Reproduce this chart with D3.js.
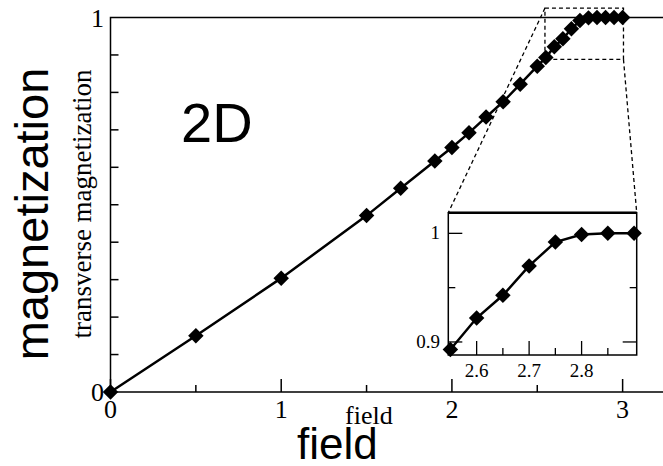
<html>
<script src="https://d3js.org/d3.v7.min.js"></script>
<style>
    body { margin: 0; background: white; }
    .serif { font-family: "Liberation Serif", "Times New Roman", serif; }
    .sans { font-family: "Liberation Sans", Arial, sans-serif; }
</style>
<body>
<script>
    var width = 663, height = 466;

    // magnetization curve
    let field = [0, 0.5, 1.0, 1.5, 1.7, 1.9, 2.0, 2.1, 2.2, 2.3, 2.4, 2.5,
                 2.55, 2.6, 2.65, 2.7, 2.75, 2.8, 2.85, 2.9, 2.95, 3.0];
    let magnet = [0, 0.150, 0.304, 0.471, 0.544, 0.617, 0.653, 0.692, 0.734, 0.775, 0.822, 0.870,
                  0.893, 0.922, 0.943, 0.970, 0.992, 0.999, 1.0, 1.0, 1.0, 1.0];
    let data = field.map((f, i) => ({x: f, y: magnet[i]}));

    let xTicks = [0, 1, 2, 3];
    let xMinor = [0.5, 1.5, 2.5];
    let yMinor = [0.1, 0.2, 0.3, 0.4, 0.5, 0.6, 0.7, 0.8, 0.9];
    let insetXTicks = [2.6, 2.7, 2.8];
    let insetXMinor = [2.65, 2.75, 2.85];
    let insetYTicks = [0.9, 1];
    let insetYMinor = [0.95];

    let svg = d3.select("body").append("svg")
        .attr("width", width)
        .attr("height", height);

    let x = d3.scaleLinear().domain([0, 3.25]).range([110.5, 665.3]);
    let y = d3.scaleLinear().domain([0, 1]).range([392, 17.5]);

    // frame (right side is cut off in the original)
    svg.append("path")
        .attr("d", "M" + width + "," + y(1) + "H" + x(0) + "V" + y(0) + "H" + width)
        .attr("fill", "none").attr("stroke", "black").attr("stroke-width", 1.5);

    xTicks.forEach(t => svg.append("line")
        .attr("x1", x(t)).attr("x2", x(t)).attr("y1", y(0)).attr("y2", y(0) - 13)
        .attr("stroke", "black").attr("stroke-width", 1.5));
    xMinor.forEach(t => svg.append("line")
        .attr("x1", x(t)).attr("x2", x(t)).attr("y1", y(0)).attr("y2", y(0) - 7)
        .attr("stroke", "black").attr("stroke-width", 1.5));
    yMinor.forEach(t => svg.append("line")
        .attr("x1", x(0)).attr("x2", x(0) + 8).attr("y1", y(t)).attr("y2", y(t))
        .attr("stroke", "black").attr("stroke-width", 1.5));

    xTicks.forEach(t => svg.append("text")
        .attr("class", "serif")
        .attr("x", x(t)).attr("y", 418)
        .attr("text-anchor", "middle")
        .attr("font-size", 26)
        .text(t));
    [0, 1].forEach(t => svg.append("text")
        .attr("class", "serif")
        .attr("x", 104).attr("y", y(t) + 9)
        .attr("text-anchor", "end")
        .attr("font-size", 26)
        .text(t));

    // zoom box and guide lines
    let bx0 = x(2.545), bx1 = x(3.005), by0 = y(1.025), by1 = y(0.888);

    let ix = d3.scaleLinear().domain([2.546, 2.905]).range([448.3, 636.7]);
    let iy = d3.scaleLinear().domain([0.888, 1.019]).range([355, 212.7]);

    svg.append("rect")
        .attr("x", bx0).attr("y", by0).attr("width", bx1 - bx0).attr("height", by1 - by0)
        .attr("fill", "none").attr("stroke", "black").attr("stroke-width", 1.3)
        .attr("stroke-dasharray", "4,3");
    svg.append("line")
        .attr("x1", bx0).attr("y1", by0).attr("x2", ix.range()[0]).attr("y2", iy.range()[1])
        .attr("stroke", "black").attr("stroke-width", 1.3).attr("stroke-dasharray", "4,3");
    svg.append("line")
        .attr("x1", bx1).attr("y1", by1).attr("x2", ix.range()[1]).attr("y2", iy.range()[1])
        .attr("stroke", "black").attr("stroke-width", 1.3).attr("stroke-dasharray", "4,3");

    let line = d3.line().x(d => x(d.x)).y(d => y(d.y));
    svg.append("path")
        .datum(data)
        .attr("d", line)
        .attr("fill", "none").attr("stroke", "black").attr("stroke-width", 2.5);

    let diamond = d3.symbol().type(d3.symbolSquare).size(120);
    svg.selectAll("mainpts")
        .data(data)
        .enter()
        .append("path")
        .attr("d", diamond)
        .attr("transform", d => "translate(" + x(d.x) + "," + y(d.y) + ") rotate(45)")
        .attr("fill", "black");

    // inset
    let inset = svg.append("g");
    inset.append("rect")
        .attr("x", ix.range()[0]).attr("y", iy.range()[1])
        .attr("width", ix.range()[1] - ix.range()[0]).attr("height", iy.range()[0] - iy.range()[1])
        .attr("fill", "white").attr("stroke", "black").attr("stroke-width", 1.5);
    inset.append("line")
        .attr("x1", ix.range()[0]).attr("x2", ix.range()[1])
        .attr("y1", iy.range()[1]).attr("y2", iy.range()[1])
        .attr("stroke", "black").attr("stroke-width", 2.5);

    insetXTicks.forEach(t => inset.append("line")
        .attr("x1", ix(t)).attr("x2", ix(t)).attr("y1", iy.range()[0]).attr("y2", iy.range()[0] - 14)
        .attr("stroke", "black").attr("stroke-width", 1.3));
    insetXMinor.forEach(t => inset.append("line")
        .attr("x1", ix(t)).attr("x2", ix(t)).attr("y1", iy.range()[0]).attr("y2", iy.range()[0] - 7)
        .attr("stroke", "black").attr("stroke-width", 1.3));
    insetYTicks.forEach(t => {
        inset.append("line")
            .attr("x1", ix.range()[0]).attr("x2", ix.range()[0] + 14).attr("y1", iy(t)).attr("y2", iy(t))
            .attr("stroke", "black").attr("stroke-width", 1.3);
        inset.append("line")
            .attr("x1", ix.range()[1]).attr("x2", ix.range()[1] - 14).attr("y1", iy(t)).attr("y2", iy(t))
            .attr("stroke", "black").attr("stroke-width", 1.3);
    });
    insetYMinor.forEach(t => {
        inset.append("line")
            .attr("x1", ix.range()[0]).attr("x2", ix.range()[0] + 7).attr("y1", iy(t)).attr("y2", iy(t))
            .attr("stroke", "black").attr("stroke-width", 1.3);
        inset.append("line")
            .attr("x1", ix.range()[1]).attr("x2", ix.range()[1] - 7).attr("y1", iy(t)).attr("y2", iy(t))
            .attr("stroke", "black").attr("stroke-width", 1.3);
    });

    insetXTicks.forEach(t => inset.append("text")
        .attr("class", "serif")
        .attr("x", ix(t)).attr("y", 377)
        .attr("text-anchor", "middle")
        .attr("font-size", 19)
        .text(t));
    insetYTicks.forEach(t => inset.append("text")
        .attr("class", "serif")
        .attr("x", 440).attr("y", iy(t) + 6)
        .attr("text-anchor", "end")
        .attr("font-size", 19)
        .text(t));

    let insetData = data.filter(d => d.x >= 2.546 && d.x <= 2.905);
    let iline = d3.line().x(d => ix(d.x)).y(d => iy(d.y));
    inset.append("path")
        .datum(insetData)
        .attr("d", iline)
        .attr("fill", "none").attr("stroke", "black").attr("stroke-width", 2.5);
    inset.selectAll("insetpts")
        .data(insetData)
        .enter()
        .append("path")
        .attr("d", diamond)
        .attr("transform", d => "translate(" + ix(d.x) + "," + iy(d.y) + ") rotate(45)")
        .attr("fill", "black");

    // labels
    svg.append("text")
        .attr("class", "serif")
        .attr("transform", "translate(91,204) rotate(-90)")
        .attr("text-anchor", "middle")
        .attr("font-size", 27)
        .text("transverse magnetization");
    svg.append("text")
        .attr("class", "serif")
        .attr("x", 345).attr("y", 424)
        .attr("font-size", 26)
        .text("field");
    svg.append("text")
        .attr("class", "sans")
        .attr("transform", "translate(48,214) rotate(-90)")
        .attr("text-anchor", "middle")
        .attr("font-size", 47)
        .text("magnetization");
    svg.append("text")
        .attr("class", "sans")
        .attr("x", 297).attr("y", 459)
        .attr("font-size", 44)
        .text("field");
    svg.append("text")
        .attr("class", "sans")
        .attr("x", 181).attr("y", 141.5)
        .attr("font-size", 56)
        .text("2D");
</script>
</body>
</html>
